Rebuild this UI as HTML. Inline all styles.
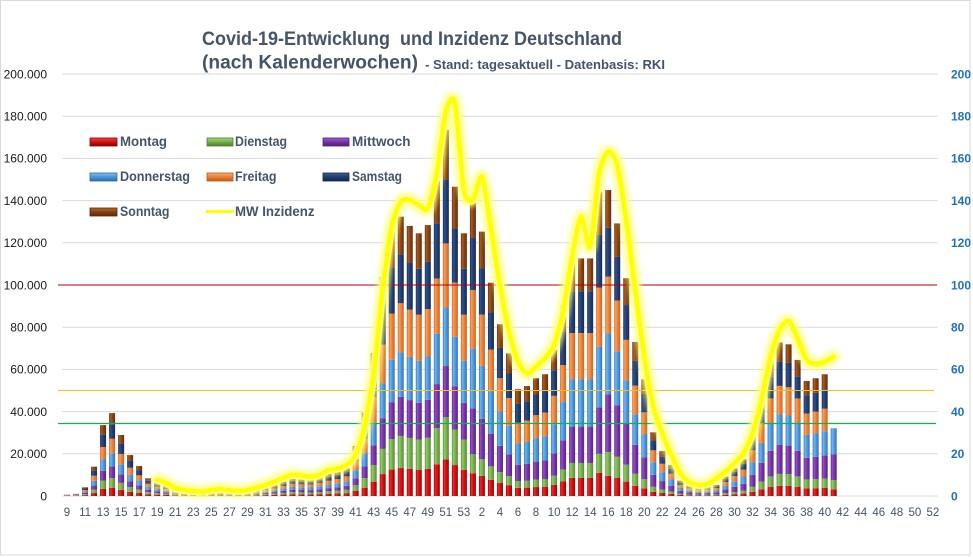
<!DOCTYPE html>
<html><head><meta charset="utf-8">
<style>
html,body{margin:0;padding:0;background:#fff;}
svg{display:block;}
text{font-family:"Liberation Sans",sans-serif;}
</style></head>
<body>
<svg id="c" xmlns="http://www.w3.org/2000/svg" width="973" height="557" viewBox="0 0 973 557">
<defs>
<linearGradient id="h0" x1="0" x2="1" y1="0" y2="0"><stop offset="0" stop-color="#A00000"/><stop offset=".25" stop-color="#F02828"/><stop offset=".6" stop-color="#C81010"/><stop offset="1" stop-color="#A00000"/></linearGradient>
<linearGradient id="h1" x1="0" x2="1" y1="0" y2="0"><stop offset="0" stop-color="#5A8C34"/><stop offset=".25" stop-color="#92CC66"/><stop offset=".6" stop-color="#74AD4A"/><stop offset="1" stop-color="#5A8C34"/></linearGradient>
<linearGradient id="h2" x1="0" x2="1" y1="0" y2="0"><stop offset="0" stop-color="#5A2385"/><stop offset=".25" stop-color="#9250C8"/><stop offset=".6" stop-color="#7333A4"/><stop offset="1" stop-color="#5A2385"/></linearGradient>
<linearGradient id="h3" x1="0" x2="1" y1="0" y2="0"><stop offset="0" stop-color="#3276BA"/><stop offset=".25" stop-color="#70B6F0"/><stop offset=".6" stop-color="#4D95D8"/><stop offset="1" stop-color="#3276BA"/></linearGradient>
<linearGradient id="h4" x1="0" x2="1" y1="0" y2="0"><stop offset="0" stop-color="#CF661E"/><stop offset=".25" stop-color="#F8A060"/><stop offset=".6" stop-color="#EA7F35"/><stop offset="1" stop-color="#CF661E"/></linearGradient>
<linearGradient id="h5" x1="0" x2="1" y1="0" y2="0"><stop offset="0" stop-color="#172C56"/><stop offset=".25" stop-color="#33528C"/><stop offset=".6" stop-color="#213C6E"/><stop offset="1" stop-color="#172C56"/></linearGradient>
<linearGradient id="h6" x1="0" x2="1" y1="0" y2="0"><stop offset="0" stop-color="#66300A"/><stop offset=".25" stop-color="#A85A26"/><stop offset=".6" stop-color="#86400F"/><stop offset="1" stop-color="#66300A"/></linearGradient>
<linearGradient id="v0" x1="0" x2="0" y1="0" y2="1"><stop offset="0" stop-color="#F04040"/><stop offset=".5" stop-color="#D01010"/><stop offset="1" stop-color="#900000"/></linearGradient>
<linearGradient id="v1" x1="0" x2="0" y1="0" y2="1"><stop offset="0" stop-color="#A0D878"/><stop offset=".5" stop-color="#74AD4A"/><stop offset="1" stop-color="#507F2E"/></linearGradient>
<linearGradient id="v2" x1="0" x2="0" y1="0" y2="1"><stop offset="0" stop-color="#A060D0"/><stop offset=".5" stop-color="#7333A4"/><stop offset="1" stop-color="#502078"/></linearGradient>
<linearGradient id="v3" x1="0" x2="0" y1="0" y2="1"><stop offset="0" stop-color="#80C0F4"/><stop offset=".5" stop-color="#4D95D8"/><stop offset="1" stop-color="#2E6CAA"/></linearGradient>
<linearGradient id="v4" x1="0" x2="0" y1="0" y2="1"><stop offset="0" stop-color="#FAB070"/><stop offset=".5" stop-color="#EA7F35"/><stop offset="1" stop-color="#C05E1A"/></linearGradient>
<linearGradient id="v5" x1="0" x2="0" y1="0" y2="1"><stop offset="0" stop-color="#40609A"/><stop offset=".5" stop-color="#213C6E"/><stop offset="1" stop-color="#142850"/></linearGradient>
<linearGradient id="v6" x1="0" x2="0" y1="0" y2="1"><stop offset="0" stop-color="#B86A34"/><stop offset=".5" stop-color="#86400F"/><stop offset="1" stop-color="#5E2A08"/></linearGradient>
<filter id="blur" filterUnits="userSpaceOnUse" x="0" y="0" width="973" height="557"><feGaussianBlur stdDeviation="2"/></filter>
</defs>

<rect x="0.5" y="0.5" width="969.5" height="554.5" fill="#fff" stroke="#D9D9D9" stroke-width="1"/>

<g stroke="#D9D9D9" stroke-width="1">
<line x1="62.5" x2="937.5" y1="496" y2="496"/>
<line x1="62.5" x2="937.5" y1="453.8" y2="453.8"/>
<line x1="62.5" x2="937.5" y1="411.6" y2="411.6"/>
<line x1="62.5" x2="937.5" y1="369.4" y2="369.4"/>
<line x1="62.5" x2="937.5" y1="327.2" y2="327.2"/>
<line x1="62.5" x2="937.5" y1="285" y2="285"/>
<line x1="62.5" x2="937.5" y1="242.8" y2="242.8"/>
<line x1="62.5" x2="937.5" y1="200.6" y2="200.6"/>
<line x1="62.5" x2="937.5" y1="158.4" y2="158.4"/>
<line x1="62.5" x2="937.5" y1="116.2" y2="116.2"/>
<line x1="62.5" x2="937.5" y1="74" y2="74"/>
</g>

<g id="bars"></g>

<line x1="58" x2="937" y1="285" y2="285" stroke="#B00000" stroke-width="1"/>
<line x1="58" x2="934" y1="390.5" y2="390.5" stroke="#FFC000" stroke-width="1"/>
<line x1="58" x2="936" y1="423.5" y2="423.5" stroke="#00B84F" stroke-width="1.3"/>

<g id="inz"></g>

<!-- Title -->
<text x="202" y="45" font-size="19" font-weight="bold" fill="#44546A" textLength="420" lengthAdjust="spacingAndGlyphs" xml:space="preserve">Covid-19-Entwicklung  und Inzidenz Deutschland</text>
<text x="202" y="68.5" font-size="19" font-weight="bold" fill="#44546A" textLength="216" lengthAdjust="spacingAndGlyphs">(nach Kalenderwochen)</text>
<text x="425" y="69" font-size="13" font-weight="bold" fill="#44546A" textLength="240" lengthAdjust="spacingAndGlyphs">- Stand: tagesaktuell - Datenbasis: RKI</text>

<!-- Left axis -->
<g font-size="12" fill="#1a1a1a" text-anchor="end">
<text x="47" y="500.3">0</text>
<text x="47" y="458.1">20.000</text>
<text x="47" y="415.9">40.000</text>
<text x="47" y="373.7">60.000</text>
<text x="47" y="331.5">80.000</text>
<text x="47" y="289.3">100.000</text>
<text x="47" y="247.1">120.000</text>
<text x="47" y="204.9">140.000</text>
<text x="47" y="162.7">160.000</text>
<text x="47" y="120.5">180.000</text>
<text x="47" y="78.3">200.000</text>
</g>

<!-- Right axis -->
<g font-size="12" font-weight="bold" fill="#1F70C1">
<text x="951" y="500.3">0</text>
<text x="951" y="458.1">20</text>
<text x="951" y="415.9">40</text>
<text x="951" y="373.7">60</text>
<text x="951" y="331.5">80</text>
<text x="951" y="289.3">100</text>
<text x="951" y="247.1">120</text>
<text x="951" y="204.9">140</text>
<text x="951" y="162.7">160</text>
<text x="951" y="120.5">180</text>
<text x="951" y="78.3">200</text>
</g>

<!-- X axis labels -->
<g font-size="11.5" fill="#44546A" text-anchor="middle">
<text x="67" y="516">9</text>
<text x="85.1" y="516">11</text>
<text x="103.1" y="516">13</text>
<text x="121.1" y="516">15</text>
<text x="139.2" y="516">17</text>
<text x="157.2" y="516">19</text>
<text x="175.3" y="516">21</text>
<text x="193.3" y="516">23</text>
<text x="211.3" y="516">25</text>
<text x="229.4" y="516">27</text>
<text x="247.4" y="516">29</text>
<text x="265.4" y="516">31</text>
<text x="283.5" y="516">33</text>
<text x="301.5" y="516">35</text>
<text x="319.6" y="516">37</text>
<text x="337.6" y="516">39</text>
<text x="355.6" y="516">41</text>
<text x="373.7" y="516">43</text>
<text x="391.7" y="516">45</text>
<text x="409.8" y="516">47</text>
<text x="427.8" y="516">49</text>
<text x="445.8" y="516">51</text>
<text x="463.9" y="516">53</text>
<text x="481.9" y="516">2</text>
<text x="500" y="516">4</text>
<text x="518" y="516">6</text>
<text x="536" y="516">8</text>
<text x="554.1" y="516">10</text>
<text x="572.1" y="516">12</text>
<text x="590.2" y="516">14</text>
<text x="608.2" y="516">16</text>
<text x="626.2" y="516">18</text>
<text x="644.3" y="516">20</text>
<text x="662.3" y="516">22</text>
<text x="680.4" y="516">24</text>
<text x="698.4" y="516">26</text>
<text x="716.4" y="516">28</text>
<text x="734.5" y="516">30</text>
<text x="752.5" y="516">32</text>
<text x="770.6" y="516">34</text>
<text x="788.6" y="516">36</text>
<text x="806.6" y="516">38</text>
<text x="824.7" y="516">40</text>
<text x="842.7" y="516">42</text>
<text x="860.8" y="516">44</text>
<text x="878.8" y="516">46</text>
<text x="896.8" y="516">48</text>
<text x="914.9" y="516">50</text>
<text x="932.9" y="516">52</text>
</g>

<!-- Legend -->
<g stroke-width="0.8">
<rect x="90" y="138" width="27" height="8" fill="url(#v0)" stroke="#8A0000"/>
<rect x="207" y="138" width="26" height="8" fill="url(#v1)" stroke="#4E7D2C"/>
<rect x="323" y="138" width="26" height="8" fill="url(#v2)" stroke="#4C1D72"/>
<rect x="90" y="173" width="27" height="8" fill="url(#v3)" stroke="#2A68A6"/>
<rect x="207" y="173" width="26" height="8" fill="url(#v4)" stroke="#B85A18"/>
<rect x="323" y="173" width="26" height="8" fill="url(#v5)" stroke="#10244A"/>
<rect x="90" y="208" width="27" height="8" fill="url(#v6)" stroke="#582806"/>
</g>
<line x1="206" x2="234" y1="211.5" y2="211.5" stroke="#FFFF00" stroke-width="3"/>
<g font-size="14" font-weight="bold" fill="#44546A">
<text x="120" y="146" textLength="47" lengthAdjust="spacingAndGlyphs">Montag</text>
<text x="235" y="146" textLength="52" lengthAdjust="spacingAndGlyphs">Dienstag</text>
<text x="352" y="146" textLength="58.5" lengthAdjust="spacingAndGlyphs">Mittwoch</text>
<text x="120" y="181" textLength="70" lengthAdjust="spacingAndGlyphs">Donnerstag</text>
<text x="235" y="181" textLength="41.5" lengthAdjust="spacingAndGlyphs">Freitag</text>
<text x="352" y="181" textLength="50" lengthAdjust="spacingAndGlyphs">Samstag</text>
<text x="120" y="216" textLength="49.5" lengthAdjust="spacingAndGlyphs">Sonntag</text>
<text x="235" y="216" textLength="79.5" lengthAdjust="spacingAndGlyphs">MW Inzidenz</text>
</g>
</svg>

<script>
(function(){
var NS="http://www.w3.org/2000/svg";
var L=62.5,W=9.02,BW=6,Y0=496,K=422/200000;
var T=[600,1000,4100,13900,33600,39300,28900,19400,14200,8400,6300,4700,3500,2700,2200,2100,2800,3300,2400,2400,2800,3300,4100,5200,6800,8400,8000,7800,8900,10500,11700,13500,23700,39500,67800,103900,125300,132400,128000,124500,128400,149400,173500,146600,124500,
142200,125300,101100,81400,67600,50600,52100,55800,57700,69200,90500,112600,112600,112600,143900,145000,129200,103200,73000,55300,30200,21300,14700,7300,5000,4200,4200,5200,9200,13100,17400,30200,47400,64500,72800,71900,64500,54500,55800,57700];
var p2020=[.10,.115,.14,.16,.175,.175,.135];
var pA=[.076,.063,.153,.2,.194,.176,.138];
var pB=[.066,.078,.188,.199,.186,.16,.123];
var bars=document.getElementById('bars');
function rect(x,y,w,h,f){var r=document.createElementNS(NS,'rect');r.setAttribute('x',x.toFixed(2));r.setAttribute('y',y.toFixed(2));r.setAttribute('width',w);r.setAttribute('height',Math.max(h,0).toFixed(2));r.setAttribute('fill',f);bars.appendChild(r);}
function drawBar(i,vals){var x=L+W*(i+0.5)-BW/2;var y=Y0;for(var s=0;s<vals.length;s++){var h=vals[s]*K;rect(x,y-h,BW,h,'url(#h'+s+')');y-=h;}}
for(var i=0;i<T.length;i++){var p=i<45?p2020:(i<60?pA:pB);var v=[];for(var s=0;s<7;s++)v.push(T[i]*p[s]);drawBar(i,v);}
drawBar(85,[3200,4400,12200,12300]);

var inc=[7.6,6.2,3.8,2.8,2.4,2.0,2.8,3.2,2.8,2.4,2.8,4.0,5.2,6.8,8.7,10,9.6,9.1,10,12.3,13,14.7,19.4,32.8,58,97.6,127.6,139.5,140.3,137.9,136.3,152.9,182,186.4,145,
140.3,151.3,127,100,78,63.5,58,61.3,65.3,71.6,87.4,113.4,132.4,118.1,152.9,163.2,156.9,130.8,97.6,66,42.3,29.7,19.4,10.7,6.5,5.2,5.7,8.4,11.5,15.5,20.2,29.7,45.5,66,78.7,82.9,74.7,64.5,62.6,63.6,66];
var pts=[];for(var j=0;j<inc.length;j++){pts.push([L+W*(10+j+0.5),Y0-inc[j]*1000*K]);}
var t=8;
var d='M'+pts[0][0].toFixed(2)+','+pts[0][1].toFixed(2);
for(var k=0;k<pts.length-1;k++){var p0=pts[k-1]||pts[k],p1=pts[k],p2=pts[k+1],p3=pts[k+2]||p2;
var c1x=p1[0]+(p2[0]-p0[0])/t,c1y=p1[1]+(p2[1]-p0[1])/t,c2x=p2[0]-(p3[0]-p1[0])/t,c2y=p2[1]-(p3[1]-p1[1])/t;
d+=' C'+c1x.toFixed(2)+','+c1y.toFixed(2)+' '+c2x.toFixed(2)+','+c2y.toFixed(2)+' '+p2[0].toFixed(2)+','+p2[1].toFixed(2);}
var g=document.getElementById('inz');
function path(stroke,w,op,filt){var e=document.createElementNS(NS,'path');e.setAttribute('d',d);e.setAttribute('fill','none');e.setAttribute('stroke',stroke);e.setAttribute('stroke-width',w);e.setAttribute('stroke-linejoin','round');e.setAttribute('stroke-linecap','round');e.setAttribute('opacity',op);if(filt)e.setAttribute('filter',filt);g.appendChild(e);}
path('#FFFF70',13,0.75,'url(#blur)');
path('#FFFF99',8,0.8,null);
path('#FFFF00',4.5,1,null);
})();
</script>
</body></html>
